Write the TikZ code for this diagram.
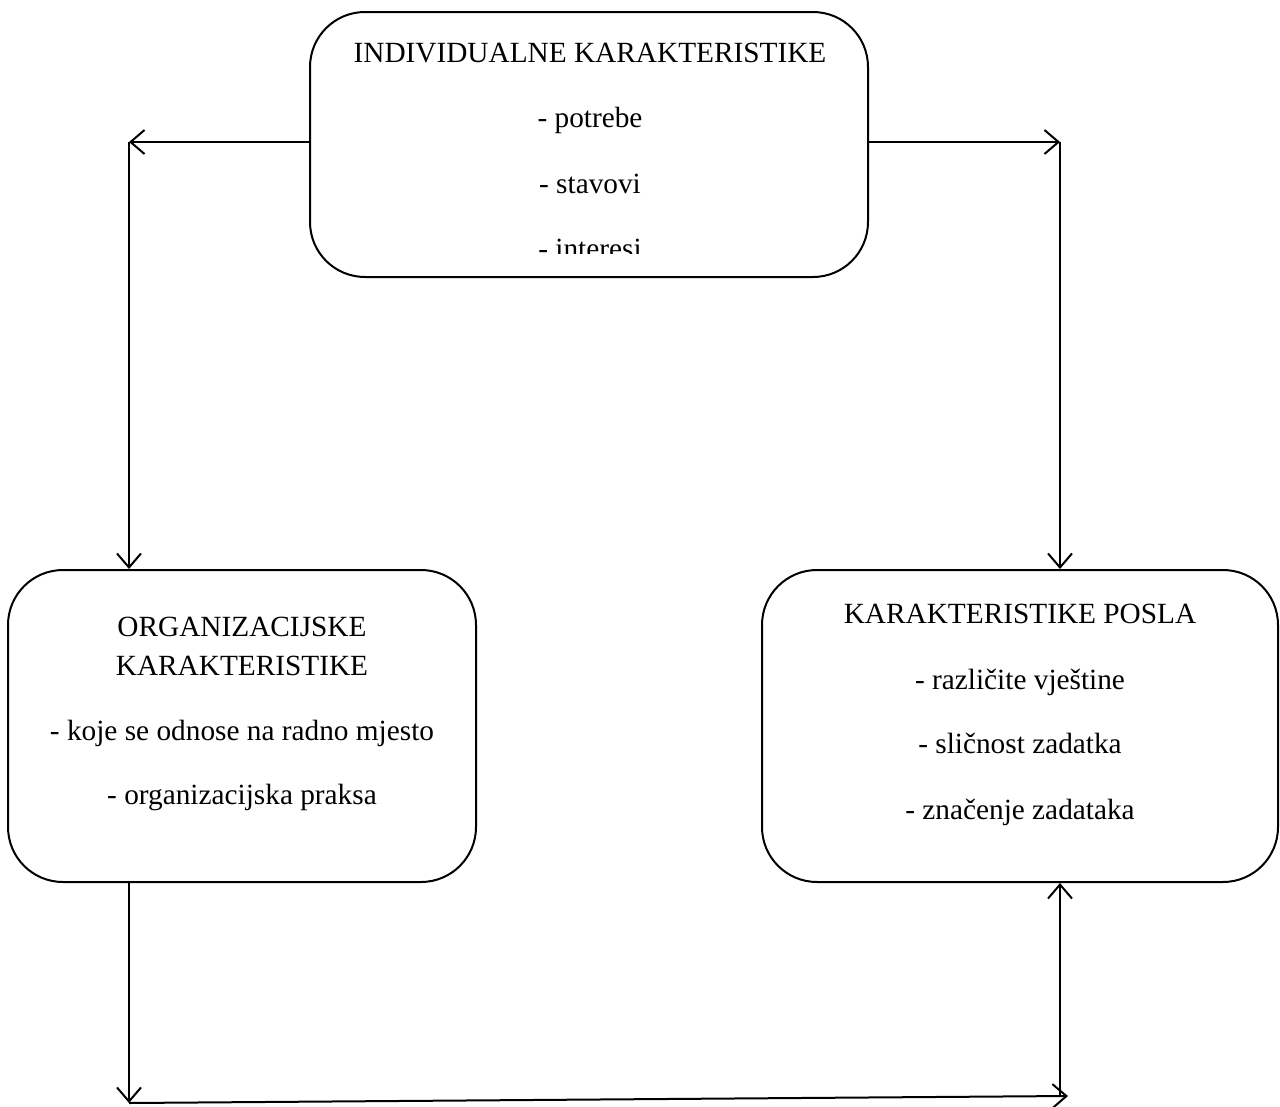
\documentclass[tikz,border=0pt]{standalone}
\usepackage{fontspec}
\setmainfont{Liberation Serif}
\usetikzlibrary{arrows.meta}
\tikzset{
  box/.style={draw, line width=2pt, rounded corners=55pt, inner sep=0pt},
  txt/.style={anchor=base, inner sep=0pt, font=\fontsize{29.3}{33}\selectfont},
  arr/.style={line width=2pt, -{Straight Barb[length=14pt,width=24pt,line width=2pt]}}
}
\begin{document}
\begin{tikzpicture}[x=1pt,y=-1pt]
\useasboundingbox (0,0) rectangle (1280,1106);
% boxes
\node[box, minimum width=558pt, minimum height=265pt] (top) at (589,144.5) {};
\node[box, minimum width=468pt, minimum height=312pt] (left) at (242,726) {};
\node[box, minimum width=516pt, minimum height=312pt] (right) at (1020,726) {};
% top texts
\node[txt] (t1) at (590,62) {INDIVIDUALNE KARAKTERISTIKE};
\node[txt] (t2) at (590,127) {- potrebe};
\node[txt] (t3) at (590,193) {- stavovi};
\begin{scope}
\clip (0,0) rectangle (1280,253);
\node[txt] (t4) at (590,258) {- interesi};
\end{scope}
% left texts
\node[txt] (l1) at (242,636) {ORGANIZACIJSKE};
\node[txt] (l2) at (242,675) {KARAKTERISTIKE};
\node[txt] (l3) at (242,740) {- koje se odnose na radno mjesto};
\node[txt] (l4) at (242,804) {- organizacijska praksa};
% right texts
\node[txt] (r1) at (1020,623) {KARAKTERISTIKE POSLA};
\node[txt] (r2) at (1020,689) {- različite vještine};
\node[txt] (r3) at (1020,753) {- sličnost zadatka};
\node[txt] (r4) at (1020,819) {- značenje zadataka};
% corner coordinates
\coordinate (cTL) at (129,142);
\coordinate (cTR) at (1060,142);
\coordinate (cBL) at (129,1103);
\coordinate (cBR) at (1068,1096);
\coordinate (cBRv) at (1060,1096);
% connectors
\draw[arr] (top.west |- cTL) -- (cTL);
\draw[arr] (cTL) -- (cTL |- left.north);
\draw[arr] (top.east |- cTR) -- (cTR);
\draw[arr] (cTR) -- (cTR |- right.north);
\draw[arr] (cTL |- left.south) -- (cBL);
\draw[arr] (cBL) -- (cBR);
\draw[arr] (cBRv) -- (cBRv |- right.south);
\end{tikzpicture}
\end{document}
